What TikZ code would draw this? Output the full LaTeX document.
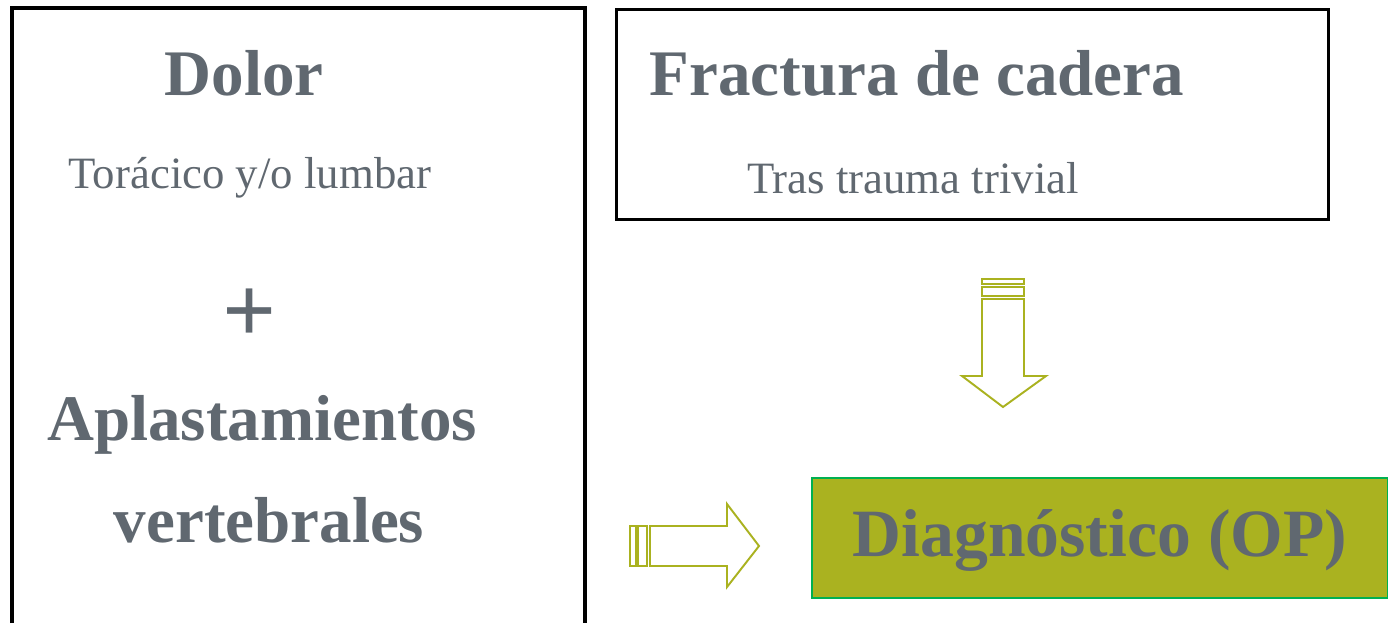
\documentclass[tikz,border=0pt]{standalone}
\usepackage{fontspec}
\setmainfont{Liberation Serif}
\usepackage{xcolor}
\definecolor{textgray}{RGB}{96,104,112}
\definecolor{olive}{RGB}{170,178,32}
\definecolor{boxgreen}{RGB}{0,176,80}

\tikzset{
  title/.style={font=\bfseries\fontsize{37}{40}\selectfont, text=textgray},
  sub/.style={font=\fontsize{25.5}{29}\selectfont, text=textgray},
  frame/.style={draw=black, line width=1.8pt},
  blockarrow/.style={draw=olive, line width=1.1pt, fill=white},
}

\begin{document}
\begin{tikzpicture}[x=0.02cm, y=-0.02cm]
  \useasboundingbox (0,0) rectangle (1388,623);

  % Left frame, open at the bottom.
  \draw[frame] (12,623) -- (12,8) -- (585,8) -- (585,623);

  % Right frame.
  \node[frame, minimum width=712*0.02cm, minimum height=210*0.02cm, anchor=north west] (cadera) at (615,8) {};

  % Texts of the left frame.
  \node[title] (dolor) at (244,73) {Dolor};
  \node[sub] (toracico) at (250,178) {Torácico y/o lumbar};
  \node[title, font=\bfseries\fontsize{54}{58}\selectfont] (plus) at (250,316) {+};
  \node[title] (aplast) at (262,425) {Aplastamientos};
  \node[title] (vert) at (269,520) {vertebrales};

  % Texts of the right frame.
  \node[title] (fractura) at (917,73) {Fractura de cadera};
  \node[sub] (tras) at (913,178) {Tras trauma trivial};

  % Diagnosis box.
  \node[draw=boxgreen, line width=1.2pt, fill=olive, minimum width=576*0.02cm, minimum height=120*0.02cm, anchor=north west] (diag) at (811,477) {};
  \node[title, font=\bfseries\fontsize{38.5}{42}\selectfont] (diagtext) at (1100,540) {Diagnóstico (OP)};

  % Down arrow.
  \draw[blockarrow] (982,279) rectangle (1024,284);
  \draw[blockarrow] (982,287) rectangle (1024,296);
  \draw[blockarrow] (982,299) -- (1024,299) -- (1024,376) -- (1046,376)
    -- (1003,407) -- (962,376) -- (982,376) -- cycle;

  % Right arrow.
  \draw[blockarrow] (630,526) rectangle (636,566);
  \draw[blockarrow] (638,526) rectangle (647,566);
  \draw[blockarrow] (650,526) -- (727,526) -- (727,504) -- (759,546)
    -- (727,587) -- (727,566) -- (650,566) -- cycle;

\end{tikzpicture}
\end{document}
